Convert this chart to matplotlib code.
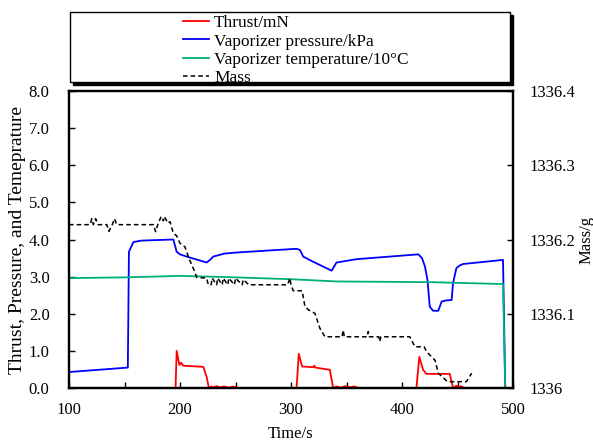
import matplotlib
matplotlib.use('Agg')
import matplotlib.pyplot as plt
from matplotlib.patches import Rectangle
from matplotlib.ticker import MultipleLocator, FormatStrFormatter, FuncFormatter

plt.rcParams['font.family'] = ['Liberation Serif', 'DejaVu Serif']

# thrust (mN)
t_thrust = [100, 196, 197, 199.5, 201, 203, 221, 224, 226, 228, 230, 233, 236, 240, 244, 248, 252,
            305, 307, 310, 320, 321, 322, 335, 338, 341, 345, 349, 353, 357, 361,
            413, 415.6, 419, 422, 443, 446, 449, 451, 453, 456, 463]
thrust = [0, 0, 1.0, 0.62, 0.68, 0.6, 0.57, 0.3, 0, 0.04, 0.02, 0.05, 0.02, 0.04, 0.01, 0.04, 0,
          0, 0.92, 0.58, 0.56, 0.6, 0.55, 0.49, 0, 0.04, 0.01, 0.05, 0.02, 0.04, 0,
          0, 0.84, 0.49, 0.38, 0.38, 0, 0.06, 0.02, 0.05, 0, 0]

# vaporizer pressure (kPa)
t_press = [100, 153, 154, 158, 165, 194, 197, 200, 206, 224, 227, 230, 240, 251, 305, 308, 311, 320,
           336.6, 341, 359, 414.7, 418, 420.7, 423, 425, 428, 432.7, 435.7, 440, 444.7, 446, 449,
           452, 455, 491, 493, 500]
press = [0.43, 0.55, 3.67, 3.93, 3.97, 4.0, 3.67, 3.6, 3.54, 3.38, 3.45, 3.54, 3.62, 3.65, 3.75, 3.72,
         3.54, 3.4, 3.16, 3.38, 3.47, 3.60, 3.5, 3.27, 2.9, 2.19, 2.08, 2.08, 2.33, 2.36, 2.37, 2.83,
         3.23, 3.30, 3.34, 3.45, 0, 0]

# vaporizer temperature (10 degC)
t_temp = [100, 150, 200, 240, 300, 341, 428, 491, 493, 500]
temp = [2.96, 2.98, 3.02, 2.99, 2.93, 2.87, 2.85, 2.80, 0, 0]

# mass (g)
t_mass = [100, 119, 120.5, 122, 124, 126, 134, 136, 139, 141, 143, 176, 178, 180, 183, 185, 186, 189,
          191, 194, 197, 200, 204.5, 207.5, 210.5, 213.5, 215, 224, 225.5,
          228, 229, 233, 234, 238, 239, 243, 244, 249, 250, 256, 257, 262, 263,
          297, 299, 300, 302, 310, 312.6, 316, 321.6, 326, 330.6,
          346, 347, 348, 368.6, 369.6, 370.6, 379, 380, 381, 407, 411.7, 420, 422, 429.7,
          432.7, 441, 443, 458, 462.8]
mass = [1336.220, 1336.220, 1336.228, 1336.220, 1336.228, 1336.220, 1336.220, 1336.211, 1336.220,
        1336.228, 1336.220, 1336.220, 1336.2105, 1336.220, 1336.231, 1336.225, 1336.231, 1336.222,
        1336.224, 1336.2085, 1336.205, 1336.195, 1336.190, 1336.177, 1336.166, 1336.156, 1336.149,
        1336.148, 1336.139,
        1336.139, 1336.148, 1336.139, 1336.148, 1336.139, 1336.148, 1336.139, 1336.148, 1336.139,
        1336.148, 1336.139, 1336.146, 1336.139, 1336.139,
        1336.139, 1336.148, 1336.139, 1336.131, 1336.131, 1336.1095, 1336.105, 1336.1005, 1336.0805,
        1336.069,
        1336.069, 1336.078, 1336.069, 1336.069, 1336.076, 1336.069, 1336.069, 1336.0625, 1336.069,
        1336.069, 1336.0555, 1336.0555, 1336.049, 1336.0375,
        1336.020, 1336.0085, 1336.0085, 1336.0085, 1336.020]

fig = plt.figure(figsize=(5.93, 4.41), dpi=100)
ax = fig.add_axes([69/593, 1 - 388/441, 444/593, 297/441])
ax2 = ax.twinx()

l1, = ax.plot(t_thrust, thrust, color='#ff0000', lw=1.3, label='Thrust/mN')
l2, = ax.plot(t_press, press, color='#0000ff', lw=1.3, label='Vaporizer pressure/kPa')
l3, = ax.plot(t_temp, temp, color='#00b07c', lw=1.3, label='Vaporizer temperature/10\u00b0C')
l4, = ax2.plot(t_mass, mass, color='black', lw=1.1, dashes=(3, 2), label='Mass')

ax.set_xlim(100, 500)
ax.set_ylim(0, 8)
ax2.set_ylim(1336, 1336.4)
ax.xaxis.set_major_locator(MultipleLocator(100))
ax.xaxis.set_minor_locator(MultipleLocator(50))
ax.yaxis.set_major_locator(MultipleLocator(1))
ax.yaxis.set_major_formatter(FormatStrFormatter('%.1f'))
ax2.yaxis.set_major_locator(MultipleLocator(0.1))
ax2.yaxis.set_major_formatter(FuncFormatter(lambda v, p: '%g' % round(v, 1)))

ax.tick_params(axis='both', which='both', direction='in', length=4, width=1, labelsize=12)
ax.tick_params(axis='x', pad=10)
ax.tick_params(axis='y', pad=14)
ax2.tick_params(axis='y', direction='in', length=4, width=1, labelsize=12, pad=12)
for a in (ax, ax2):
    for s in a.spines.values():
        s.set_linewidth(1.6)

ax.set_xlabel('Time/s', fontsize=12, labelpad=6)
ax.set_ylabel('Thrust, Pressure, and Temeprature', fontsize=14, labelpad=2)
ax2.set_ylabel('Mass/g', fontsize=12, labelpad=2)

# legend box with solid shadow
shadow = Rectangle((73/593, 1 - 85/441), 440/593, 70/441, transform=fig.transFigure,
                   facecolor='black', edgecolor='black', zorder=1)
box = Rectangle((70/593, 1 - 82/441), 440/593, 70/441, transform=fig.transFigure,
                facecolor='white', edgecolor='black', lw=1, zorder=2)
fig.add_artist(shadow)
fig.add_artist(box)
leg = fig.legend(handles=[l1, l2, l3, l4], loc='upper left', bbox_to_anchor=(183/593, 1 - 15/441),
                 frameon=False, borderpad=0, borderaxespad=0, handlelength=1.5, handletextpad=0.3,
                 labelspacing=0.14, fontsize=12.4)
leg.set_zorder(3)

fig.savefig('out.png', dpi=100)
